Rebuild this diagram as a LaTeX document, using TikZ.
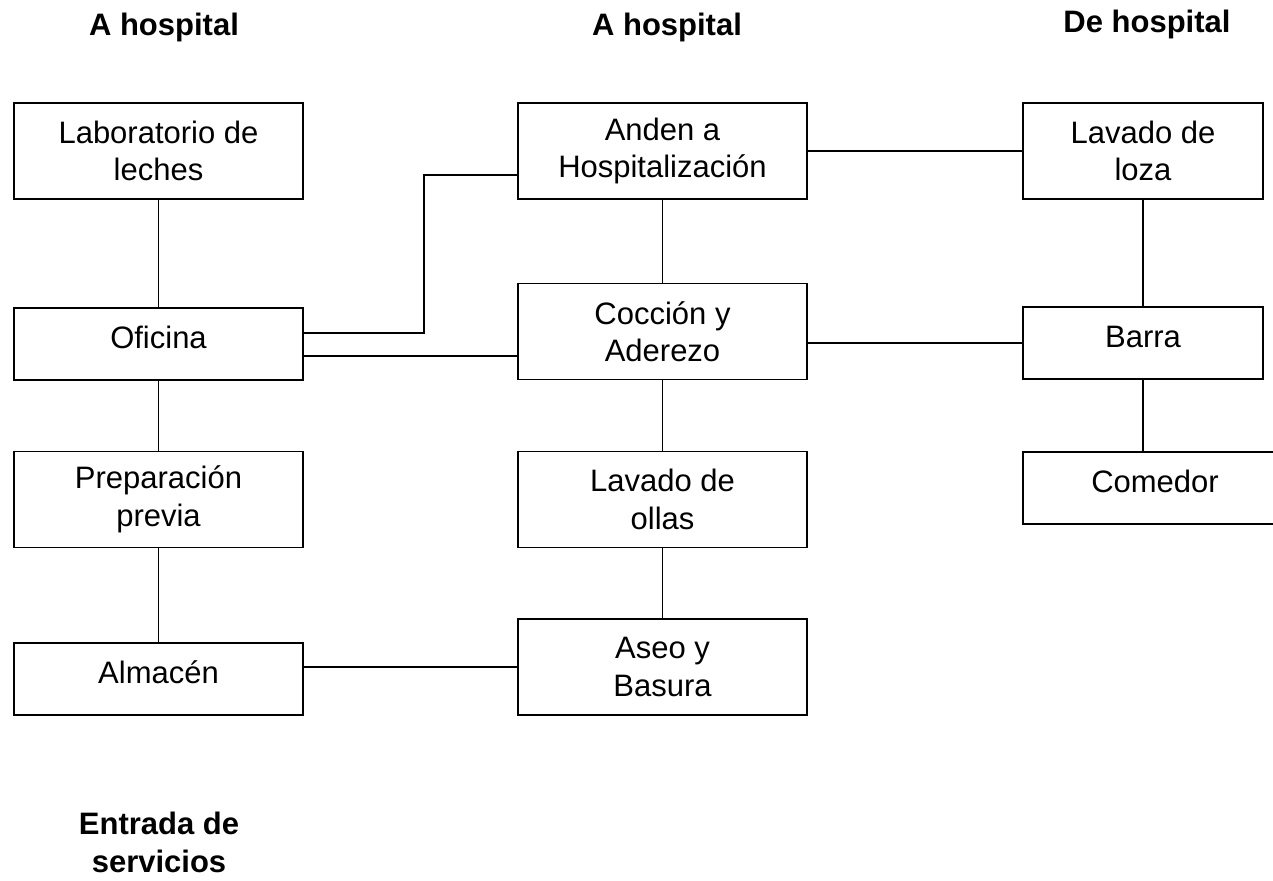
\documentclass[tikz,border=0pt]{standalone}
\usepackage{fontspec}
\setmainfont{Liberation Sans}
\usetikzlibrary{calc}
\begin{document}
\begin{tikzpicture}[x=1pt,y=-1pt,
  box/.style={draw=black, line width=1.5pt, rectangle, inner sep=0pt, align=center,
    font=\fontsize{31}{37.5}\selectfont, minimum width=289pt},
  tall/.style={minimum height=96pt},
  short/.style={minimum height=72pt, text height=22pt, text depth=13pt},
  title/.style={inner sep=0pt, align=center, font=\fontsize{31}{37.5}\selectfont\bfseries},
  conn/.style={draw=black, line width=1.5pt}]
\useasboundingbox (0,0) rectangle (1273,880);
\clip (0,0) rectangle (1273,880);
\fill[white] (0,0) rectangle (1273,880);

% titles
\node[title, anchor=base] (t1) at (164,36) {A hospital};
\node[title, anchor=base] (t2) at (667,36) {A hospital};
\node[title, anchor=base] (t3) at (1147,33) {De hospital};
\node[title, anchor=north] (t4) at (159,812) {Entrada de\\servicios};

% left column
\node[box, tall]  (lab)  at (158.5,151) {Laboratorio de\\leches};
\node[box, short] (ofi)  at (158.5,344) {Oficina};
\node[box, tall]  (prep) at (158.5,499.5) {Preparación\\previa};
\node[box, short] (alm)  at (158.5,679) {Almacén};

% middle column
\node[box, tall] (anden) at (662.5,151) {Anden a\\Hospitalización};
\node[box, tall] (cocc)  at (662.5,331.5) {Cocción y\\Aderezo};
\node[box, tall] (ollas) at (662.5,499.5) {Lavado de\\ollas};
\node[box, tall] (aseo)  at (662.5,667) {Aseo y\\Basura};

% right column
\node[box, tall, minimum width=240pt]  (loza)  at (1143,151) {Lavado de\\loza};
\node[box, short, minimum width=240pt] (barra) at (1143,343) {Barra};
\node[box, short, minimum width=264pt] (com)   at (1155,488) {Comedor};

% connectors
\draw[conn] (lab.south) -- (ofi.north);
\draw[conn] (ofi.south) -- (prep.north);
\draw[conn] (prep.south) -- (alm.north);

\draw[conn] (anden.south) -- (cocc.north);
\draw[conn] (cocc.south) -- (ollas.north);
\draw[conn] (ollas.south) -- (aseo.north);

\draw[conn] (loza.south) -- (barra.north);
\draw[conn] (barra.south) -- (barra.south |- com.north);

\coordinate (o1) at ($(ofi.east)+(0,-11)$);
\coordinate (a1) at ($(anden.west)+(0,24)$);
\draw[conn] (o1) -- ++(120,0) |- (a1);
\coordinate (o2) at ($(ofi.east)+(0,12)$);
\draw[conn] (o2) -- (o2 -| cocc.west);

\draw[conn] (anden.east) -- (loza.west);
\draw[conn] (barra.west) -- (barra.west -| cocc.east);
\draw[conn] (aseo.west) -- (aseo.west -| alm.east);
\end{tikzpicture}
\end{document}
